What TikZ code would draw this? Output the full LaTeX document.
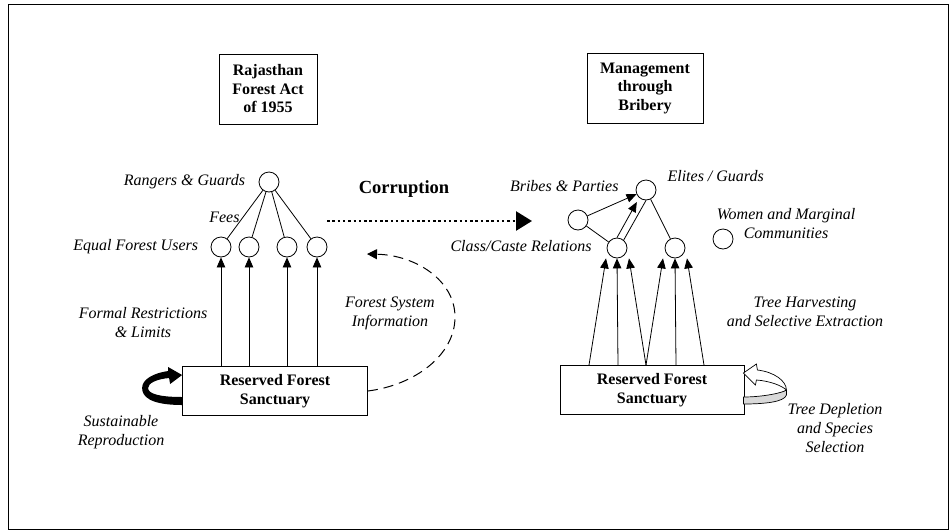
\documentclass[tikz,border=0pt]{standalone}
\usepackage{fontspec}
\setmainfont{Liberation Serif}
\usetikzlibrary{arrows.meta, positioning}

\begin{document}
\begin{tikzpicture}[x=1pt, y=-1pt, >={Triangle[length=10pt, width=8.5pt]}]
        \tikzstyle{every node}=[font=\fontsize{16}{19}\selectfont]
        \tikzstyle{titlebox}=[draw, line width=0.8pt, align=center, font=\fontsize{16}{18.5}\selectfont\bfseries]
        \tikzstyle{actor}=[circle, draw, line width=0.8pt, minimum size=20pt, inner sep=0pt]
        \tikzstyle{tag}=[align=center, font=\fontsize{16}{19}\selectfont\itshape]
        \tikzstyle{flow}=[draw, line width=0.8pt]

        \useasboundingbox (0,0) rectangle (950,531);
        \draw[line width=0.9pt] (8,4) rectangle (948,529);

        % Title boxes
        \node[titlebox, minimum width=98pt, minimum height=70pt] (act) at (268,89) {Rajasthan\\Forest Act\\of 1955};
        \node[titlebox, minimum width=116pt, minimum height=70pt] (bribery) at (645,88) {Management\\through\\Bribery};

        % Sanctuaries
        \node[titlebox, minimum width=185pt, minimum height=49pt] (sanctL) at (275,391) {Reserved Forest\\Sanctuary};
        \node[titlebox, minimum width=184pt, minimum height=49pt] (sanctR) at (652,390) {Reserved Forest\\Sanctuary};

        % Left Nodes
        \node[actor, label={[tag, label distance=10pt]left:Rangers \& Guards}] (rangers) at (269,182) {};
        \node[actor, label={[tag, label distance=9pt]left:Equal Forest Users}] (u1) at (221,247) {};
        \node[actor] (u2) at (249,247) {};
        \node[actor] (u3) at (287,247) {};
        \node[actor] (u4) at (317,247) {};

        % Right Nodes
        \node[actor] (elites) at (646,190) {};
        \node[actor] (bribes) at (578,220) {};
        \node[actor] (caste) at (617,248) {};
        \node[actor] (other) at (675,248) {};
        \node[actor] (women) at (723,239) {};

        % Labels
        \node[tag, anchor=west] (elitesL) at (664,176) {Elites / Guards};
        \node[tag, anchor=east] (bribesL) at (622,186) {Bribes \& Parties};
        \node[tag, anchor=east] (casteL) at (595,246) {Class/Caste Relations};
        \node[tag] (womenL) at (786,224) {Women and Marginal\\Communities};
        \node[tag] (formal) at (143,323) {Formal Restrictions\\\& Limits};
        \node[tag] (info) at (390,313) {Forest System\\Information};
        \node[tag] (sustain) at (121,432) {Sustainable\\Reproduction};
        \node[tag] (harvest) at (805,312) {Tree Harvesting\\and Selective Extraction};
        \node[tag] (deplete) at (835,428) {Tree Depletion\\and Species\\Selection};
        \node[font=\fontsize{18.5}{20}\selectfont\bfseries] (corrupt) at (404,189) {Corruption};

        % Edges left
        \draw[flow] (rangers) -- node[tag, pos=0.55, left] {Fees} (u1);
        \foreach \u in {u2,u3,u4}
          \draw[flow] (rangers) -- (\u);
        \foreach \u in {u1,u2,u3,u4}
          \draw[flow, ->] (\u |- sanctL.north) -- (\u);

        % Edges right
        \draw[flow, ->] (bribes) -- (elites);
        \draw[flow] (bribes) -- (caste);
        \draw[flow, ->] (caste.north) -- ([shift={(-4,3)}]elites.240);
        \draw[flow] (caste.50) -- (elites.south);
        \draw[flow] (elites) -- (other);
        \foreach \s/\t in {-63/-11, -34/0, -6/12}
          \draw[flow, ->] ([xshift=\s pt]sanctR.north) -- ([xshift=\t pt]caste.south);
        \foreach \s/\t in {-6/-12, 24/0, 52/12}
          \draw[flow, ->] ([xshift=\s pt]sanctR.north) -- ([xshift=\t pt]other.south);

        % corruption link
        \coordinate (dotstart) at (327,221);
        \coordinate (dotend) at (530,221);
        \draw[line width=2.5pt, dash pattern=on 2.5pt off 2.8pt, -{Triangle[length=16pt, width=19pt, sep=-2pt]}] (dotstart) -- (dotend);

        % feedback
        \coordinate (infoend) at (367,254);
        \draw[line width=1pt, dash pattern=on 10pt off 6pt, -{Triangle[length=10pt, width=10pt]}]
          (sanctL.east) .. controls (415,385) and (455,355) .. (455,317)
          .. controls (455,280) and (415,255) .. (infoend);

        % loops
        \begin{scope}[shift={(sanctL.west)}]
          \fill (0,14) .. controls (-33,14) and (-40,5) .. (-40,-3)
            .. controls (-40,-12) and (-28,-18) .. (-14,-20) -- (-14,-24) -- (0,-16) -- (-12,-7) -- (-13,-13)
            .. controls (-25,-12) and (-34,-8) .. (-34,-3)
            .. controls (-34,3) and (-22,6) .. (0,6) -- cycle;
        \end{scope}
        \begin{scope}[shift={(sanctR.east)}]
          \draw[line width=0.7pt, fill=white] (-1,-17) -- (12,-26) -- (13,-20)
            .. controls (30,-18) and (42,-9) .. (42,0)
            .. controls (38,-4) and (26,-9) .. (12,-10) -- (11,-5) -- cycle;
          \draw[line width=0.7pt, fill=gray!30] (42,0) -- (42,5)
            .. controls (40,12) and (20,14) .. (-1,14) -- (-1,7)
            .. controls (18,7) and (38,3) .. (42,0) -- cycle;
        \end{scope}

      \end{tikzpicture}
\end{document}
